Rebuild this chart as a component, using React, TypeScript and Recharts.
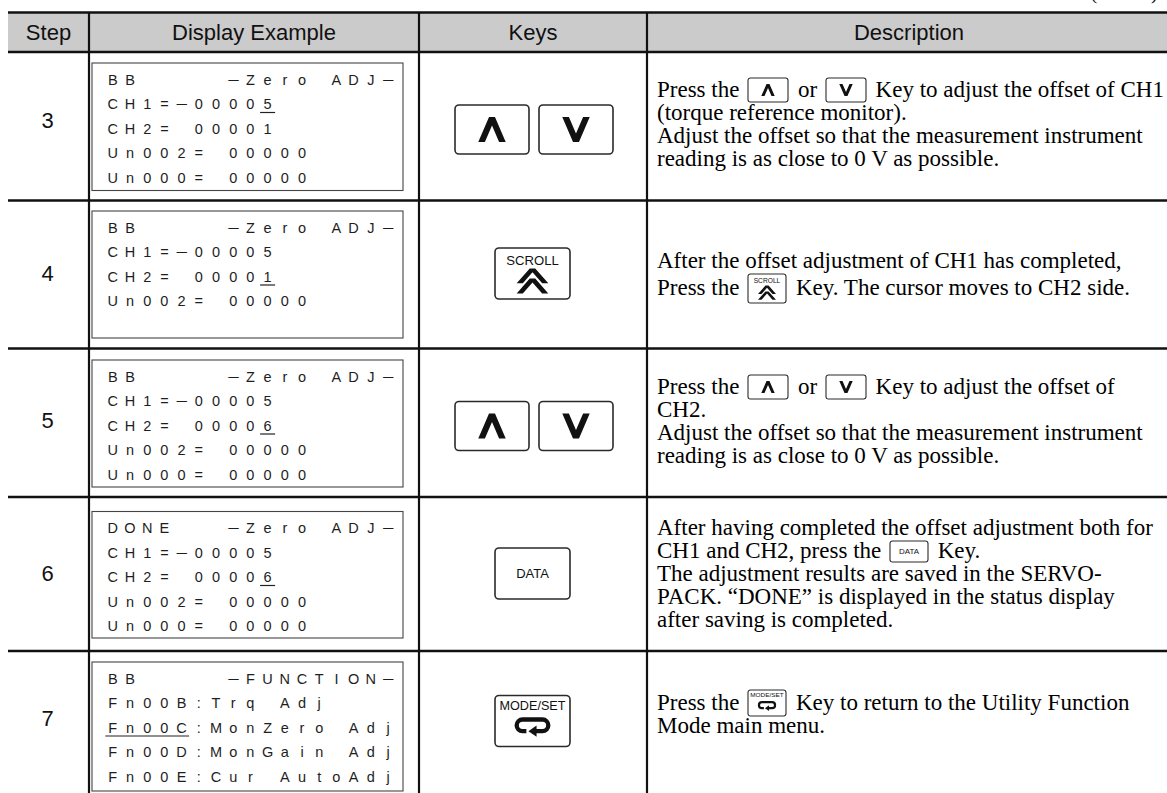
import React from 'react';
import { Surface, Layer, Rectangle, Polygon } from 'recharts';

// table content
const HEADERS = ['Step', 'Display Example', 'Keys', 'Description'];
const STEPS = ['3', '4', '5', '6', '7'];
const CONT_LABEL = '(cont’d)';

const DISPLAY_LINES: string[][] = [
  ['BB     −Zero ADJ−', 'CH1=−00005', 'CH2= 00001', 'Un002= 00000', 'Un000= 00000'],
  ['BB     −Zero ADJ−', 'CH1=−00005', 'CH2= 00001', 'Un002= 00000'],
  ['BB     −Zero ADJ−', 'CH1=−00005', 'CH2= 00006', 'Un002= 00000', 'Un000= 00000'],
  ['DONE   −Zero ADJ−', 'CH1=−00005', 'CH2= 00006', 'Un002= 00000', 'Un000= 00000'],
  ['BB     −FUNCTION−', 'Fn00B:Trq Adj', 'Fn00C:MonZero Adj', 'Fn00D:MonGain Adj', 'Fn00E:Cur AutoAdj'],
];

// underlined cursor position per step: [line, first column, last column]
const CURSORS: [number, number, number][] = [
  [1, 9, 9],
  [2, 9, 9],
  [2, 9, 9],
  [2, 9, 9],
  [2, 0, 4],
];

const KEY_SETS: string[][] = [['up', 'down'], ['scroll'], ['up', 'down'], ['data'], ['mode']];

const DESCRIPTIONS: string[][] = [
  [
    'Press the [up] or [down] Key to adjust the offset of CH1',
    '(torque reference monitor).',
    'Adjust the offset so that the measurement instrument',
    'reading is as close to 0 V as possible.',
  ],
  ['After the offset adjustment of CH1 has completed,', 'Press the [scroll] Key. The cursor moves to CH2 side.'],
  [
    'Press the [up] or [down] Key to adjust the offset of',
    'CH2.',
    'Adjust the offset so that the measurement instrument',
    'reading is as close to 0 V as possible.',
  ],
  [
    'After having completed the offset adjustment both for',
    'CH1 and CH2, press the [data] Key.',
    'The adjustment results are saved in the SERVO-',
    'PACK. “DONE” is displayed in the status display',
    'after saving is completed.',
  ],
  ['Press the [mode] Key to return to the Utility Function', 'Mode main menu.'],
];

// layout
const W = 1167;
const H = 793;
const COL_X = [8, 89, 419, 647, 1171];
const HEAD_TOP = 12.5;
const HEAD_BOTTOM = 52;
const ROW_LINES = [200.5, 348.5, 497, 651];
const NUM_Y = [120, 273, 420, 573, 718];
const BOX_X = 92;
const BOX_W = 311;
const BOX_Y: [number, number][] = [
  [63, 190.5],
  [211, 338],
  [360, 487],
  [511.5, 638],
  [662, 791],
];
const CHAR_X0 = 112.8;
const CHAR_PITCH = 17.2;
const LINE_PITCH = 24.5;
const KEY_CY = [129.5, 273.5, 426, 573.5, 721];
const DESC_CY = [124, 274.5, 421, 574, 714.5];
const DESC_PITCH = [23, 27, 23, 23, 23];
const DESC_X = 657;

const SANS = '"Liberation Sans", Arial, Helvetica, sans-serif';
const SERIF = '"Liberation Serif", "Times New Roman", Times, serif';
const INK = '#111';

const INLINE_SIZE: Record<string, [number, number]> = {
  up: [40, 24],
  down: [40, 24],
  scroll: [38, 29],
  data: [38, 21],
  mode: [38, 26],
};

function chevron(cx: number, tip: number, base: number, hw: number, t: number) {
  const h = Math.abs(base - tip);
  const dir = base > tip ? 1 : -1;
  const a = t * 0.45;
  const notch = (h * (hw - t)) / (hw - a);
  return [
    { x: cx - a, y: tip },
    { x: cx + a, y: tip },
    { x: cx + hw, y: base },
    { x: cx + hw - t, y: base },
    { x: cx, y: base - dir * notch },
    { x: cx - hw + t, y: base },
    { x: cx - hw, y: base },
  ];
}

function KeyButton({ kind, x, y, w, h }: { kind: string; x: number; y: number; w: number; h: number }) {
  const cx = x + w / 2;
  const big = h > 35;
  const label = (text: string, cy: number, fs: number, len?: number) => (
    <text
      x={cx}
      y={cy + fs * 0.36}
      textAnchor="middle"
      fontFamily={SANS}
      fontSize={fs}
      fill={INK}
      textLength={len}
      lengthAdjust={len ? 'spacingAndGlyphs' : undefined}
    >
      {text}
    </text>
  );

  let glyph: React.ReactNode = null;
  if (kind === 'up' || kind === 'down') {
    const top = y + h * 0.245;
    const bottom = y + h * 0.755;
    const pts = kind === 'up' ? chevron(cx, top, bottom, h * 0.28, h * 0.135) : chevron(cx, bottom, top, h * 0.28, h * 0.135);
    glyph = <Polygon points={pts} fill={INK} stroke="none" />;
  } else if (kind === 'scroll') {
    const hc = h * 0.29;
    const t1 = y + h * 0.4;
    const t2 = t1 + h * 0.2;
    glyph = (
      <>
        {label('SCROLL', y + h * 0.235, h * 0.255, w * 0.7)}
        <Polygon points={chevron(cx, t1, t1 + hc, h * 0.31, h * 0.12)} fill={INK} stroke="none" />
        <Polygon points={chevron(cx, t2, t2 + hc, h * 0.31, h * 0.12)} fill={INK} stroke="none" />
      </>
    );
  } else if (kind === 'data') {
    glyph = label('DATA', y + h / 2, Math.min(13, h * 0.38));
  } else if (kind === 'mode') {
    const top = y + h * 0.47;
    const bot = y + h * 0.7;
    const r = (bot - top) / 2;
    const hw = h * 0.31;
    const sw = h * 0.085;
    const d = [
      `M ${cx - h * 0.12} ${bot}`,
      `H ${cx - hw + r}`,
      `A ${r} ${r} 0 0 1 ${cx - hw + r} ${top}`,
      `H ${cx + hw - r}`,
      `A ${r} ${r} 0 0 1 ${cx + hw - r} ${bot}`,
      `H ${cx + h * 0.06}`,
    ].join(' ');
    glyph = (
      <>
        {label('MODE/SET', y + h * 0.2, h * 0.235, w * 0.88)}
        <path d={d} fill="none" stroke={INK} strokeWidth={sw} />
        <Polygon
          points={[
            { x: cx - h * 0.08, y: bot },
            { x: cx + h * 0.08, y: bot - h * 0.11 },
            { x: cx + h * 0.08, y: bot + h * 0.11 },
          ]}
          fill={INK}
          stroke="none"
        />
      </>
    );
  }

  return (
    <Layer>
      <Rectangle
        x={x}
        y={y}
        width={w}
        height={h}
        radius={big ? 4 : 2.5}
        fill="#fff"
        stroke="#2a2a2a"
        strokeWidth={big ? 1.6 : 1.1}
      />
      {glyph}
    </Layer>
  );
}

function InlineKey({ kind }: { kind: string }) {
  const [w, h] = INLINE_SIZE[kind];
  return (
    <Surface width={w + 2} height={h + 2} style={{ display: 'block', margin: '0 3px 0 2px' }}>
      <KeyButton kind={kind} x={1} y={1} w={w} h={h} />
    </Surface>
  );
}

function DescLine({ text, cy }: { text: string; cy: number }) {
  const parts = text.split(/(\[\w+\])/);
  return (
    <div
      style={{
        position: 'absolute',
        left: DESC_X,
        top: cy - 14,
        height: 28,
        display: 'flex',
        alignItems: 'center',
        whiteSpace: 'pre',
        fontFamily: SERIF,
        fontSize: 23,
        lineHeight: '28px',
        color: '#000',
      }}
    >
      {parts.map((p, i) => {
        const m = p.match(/^\[(\w+)\]$/);
        if (m) return <InlineKey key={i} kind={m[1]} />;
        return p ? <span key={i}>{p}</span> : null;
      })}
    </div>
  );
}

function DisplayBox({ step }: { step: number }) {
  const [y0, y1] = BOX_Y[step];
  const [cLine, cFrom, cTo] = CURSORS[step];
  return (
    <Layer>
      <rect x={BOX_X} y={y0} width={BOX_W} height={y1 - y0} fill="#fff" stroke="#444" strokeWidth={1.1} />
      {DISPLAY_LINES[step].map((line, li) => {
        const base = y0 + 16.5 + li * LINE_PITCH + 5.2;
        return (
          <g key={li}>
            {Array.from(line).map((ch, ci) =>
              ch === ' ' ? null : (
                <text
                  key={ci}
                  x={CHAR_X0 + ci * CHAR_PITCH}
                  y={base}
                  textAnchor="middle"
                  fontFamily={SANS}
                  fontSize={14.5}
                  fill="#1e1e1e"
                  textLength={ch === '−' ? 12.5 : undefined}
                  lengthAdjust={ch === '−' ? 'spacingAndGlyphs' : undefined}
                >
                  {ch}
                </text>
              ),
            )}
            {li === cLine && (
              <line
                x1={CHAR_X0 + cFrom * CHAR_PITCH - 7.5}
                x2={CHAR_X0 + cTo * CHAR_PITCH + 7.5}
                y1={base + 3.3}
                y2={base + 3.3}
                stroke="#222"
                strokeWidth={1.2}
              />
            )}
          </g>
        );
      })}
    </Layer>
  );
}

function BigKeys({ step }: { step: number }) {
  const keys = KEY_SETS[step];
  const cy = KEY_CY[step];
  if (keys.length === 2) {
    return (
      <Layer>
        <KeyButton kind={keys[0]} x={455} y={cy - 24.5} w={74} h={49} />
        <KeyButton kind={keys[1]} x={539} y={cy - 24.5} w={74} h={49} />
      </Layer>
    );
  }
  return <KeyButton kind={keys[0]} x={495} y={cy - 25.5} w={75} h={51} />;
}

export default function App() {
  return (
    <div
      style={{
        position: 'absolute',
        left: 0,
        top: 0,
        width: W,
        height: H,
        overflow: 'hidden',
        background: '#fff',
      }}
    >
      <Surface width={W} height={H} style={{ position: 'absolute', left: 0, top: 0 }}>
        <text x={1158} y={-1} textAnchor="end" fontFamily={SERIF} fontSize={21} fill={INK}>
          {CONT_LABEL}
        </text>
        <rect x={COL_X[0]} y={HEAD_TOP} width={W - COL_X[0]} height={HEAD_BOTTOM - HEAD_TOP} fill="#cbcbcb" />
        {HEADERS.map((h, i) => (
          <text
            key={h}
            x={(COL_X[i] + COL_X[i + 1]) / 2}
            y={40}
            textAnchor="middle"
            fontFamily={SANS}
            fontSize={22}
            fill={INK}
          >
            {h}
          </text>
        ))}
        {STEPS.map((s, i) => (
          <text
            key={s}
            x={(COL_X[0] + COL_X[1]) / 2 - 1}
            y={NUM_Y[i] + 8}
            textAnchor="middle"
            fontFamily={SANS}
            fontSize={22}
            fill={INK}
          >
            {s}
          </text>
        ))}
        {STEPS.map((s, i) => (
          <DisplayBox key={s} step={i} />
        ))}
        {STEPS.map((s, i) => (
          <BigKeys key={s} step={i} />
        ))}
        {[HEAD_TOP, HEAD_BOTTOM, ...ROW_LINES].map((y) => (
          <line key={y} x1={COL_X[0]} x2={W} y1={y} y2={y} stroke={INK} strokeWidth={2.6} />
        ))}
        {COL_X.slice(1, 4).map((x) => (
          <line key={x} x1={x} x2={x} y1={HEAD_TOP} y2={H} stroke={INK} strokeWidth={2.2} />
        ))}
      </Surface>
      {DESCRIPTIONS.map((lines, r) =>
        lines.map((text, i) => (
          <DescLine
            key={`${r}-${i}`}
            text={text}
            cy={DESC_CY[r] + (i - (lines.length - 1) / 2) * DESC_PITCH[r]}
          />
        )),
      )}
    </div>
  );
}
